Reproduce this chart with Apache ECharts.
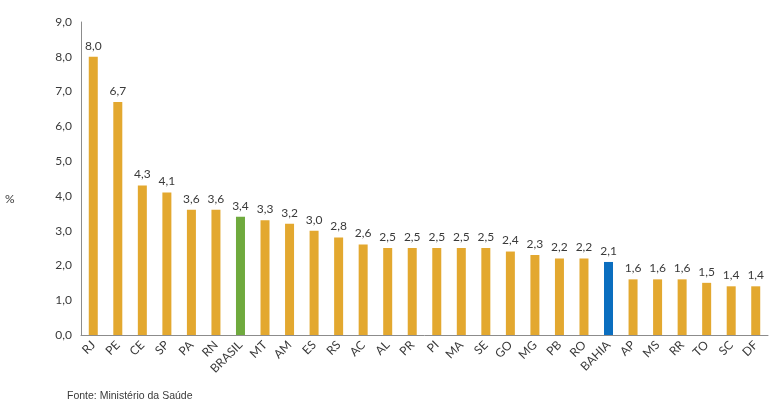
<!DOCTYPE html>
<html>
<head>
<meta charset="utf-8">
<script src="https://cdn.jsdelivr.net/npm/echarts@6/dist/echarts.min.js"></script>
<style>html,body{margin:0;padding:0;background:#fff;}#c{width:780px;height:405px;}</style>
</head>
<body>
<div id="c"></div>
<script>
const categories = ['RJ','PE','CE','SP','PA','RN','BRASIL','MT','AM','ES','RS','AC','AL','PR','PI','MA','SE','GO','MG','PB','RO','BAHIA','AP','MS','RR','TO','SC','DF'];
const values = [8.0,6.7,4.3,4.1,3.6,3.6,3.4,3.3,3.2,3.0,2.8,2.6,2.5,2.5,2.5,2.5,2.5,2.4,2.3,2.2,2.2,2.1,1.6,1.6,1.6,1.5,1.4,1.4];
const yTicks = [0,1,2,3,4,5,6,7,8,9];
const yUnit = '%';
const sourceText = 'Fonte: Ministério da Saúde';

const colorFor = c => c === 'BRASIL' ? '#6FAA3E' : (c === 'BAHIA' ? '#0B6EBF' : '#E3A82F');
const fmt = v => v.toFixed(1).replace('.', ',');

const chart = echarts.init(document.getElementById('c'));
chart.setOption({
  animation: false,
  textStyle: { fontFamily: 'Lato, "Open Sans", sans-serif' },
  grid: { left: 81, right: 12, top: 22, bottom: 70, containLabel: false },
  xAxis: {
    type: 'category',
    data: categories,
    axisLine: { lineStyle: { color: '#8c8c8c' } },
    axisTick: { show: false },
    axisLabel: { rotate: 45, color: '#3a3a3a', fontSize: 12, interval: 0, margin: 8 }
  },
  yAxis: {
    type: 'value',
    min: yTicks[0],
    max: yTicks[yTicks.length - 1],
    interval: 1,
    axisLine: { show: true, lineStyle: { color: '#8c8c8c' } },
    axisTick: { show: false },
    splitLine: { show: false },
    axisLabel: { color: '#3a3a3a', fontSize: 12, margin: 9, formatter: v => fmt(v) }
  },
  series: [{
    type: 'bar',
    barWidth: 9,
    data: values.map((v, i) => ({ value: v, itemStyle: { color: colorFor(categories[i]) } })),
    label: { show: true, position: 'top', distance: 5, color: '#3a3a3a', fontSize: 12, formatter: p => fmt(p.value) }
  }],
  graphic: [{
    type: 'text',
    left: 5,
    top: 193,
    style: { text: yUnit, fill: '#3a3a3a', font: '12px Lato, sans-serif' }
  }, {
    type: 'text',
    left: 67,
    top: 391,
    style: { text: sourceText, fill: '#3a3a3a', font: '10.5px "Liberation Sans", Arial, sans-serif' }
  }]
});
</script>
</body>
</html>
